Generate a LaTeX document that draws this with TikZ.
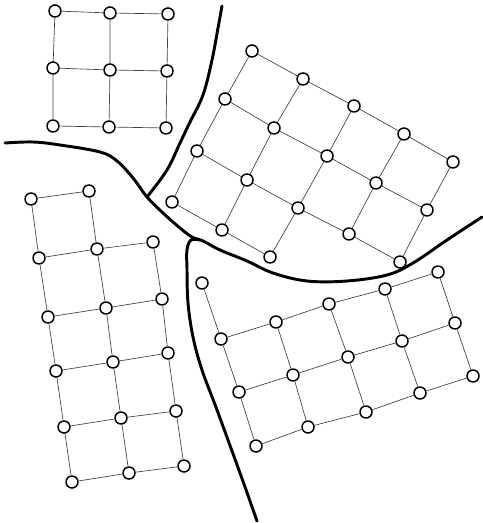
\documentclass[tikz,border=0pt]{standalone}
\usetikzlibrary{shapes.geometric, positioning}
\tikzset{
    site/.style={draw, circle, fill=white, line width=1.1pt, minimum size=9pt, inner sep=0pt},
    link/.style={draw, line width=0.5pt, color=black!75},
    border/.style={draw, line width=2.2pt, line cap=round, line join=round}
}
\begin{document}
\begin{tikzpicture}[x=0.75pt, y=-0.75pt]
    \useasboundingbox (0,0) rectangle (482,523);

    % region borders
    \draw [border] plot[smooth, tension=0.6] coordinates {(5,143) (33,142) (60,145) (100,152) (117,161) (133,178) (147,197) (163,213) (180,228) (192,237) (203,241) (220,250) (247,261) (273,273) (307,281) (347,281) (387,275) (413,263) (447,240) (482,217)};
    \draw [border] plot[smooth, tension=0.6] coordinates {(222,6) (218,28) (212,60) (203,95) (190,122) (180,143) (167,170) (147,197)};
    \draw [border] plot[smooth, tension=0.6] coordinates {(200,240) (191,240) (187,250) (187,270) (188,303) (193,337) (202,370) (217,410) (240,473) (257,521)};

    % north-west grid
    \node [site] (nw11) at (55,11) {};
    \node [site] (nw12) at (110,13) {};
    \node [site] (nw13) at (168,14) {};
    \node [site] (nw21) at (53,68) {};
    \node [site] (nw22) at (110,70) {};
    \node [site] (nw23) at (167,71) {};
    \node [site] (nw31) at (53,126) {};
    \node [site] (nw32) at (109,127) {};
    \node [site] (nw33) at (166,128) {};

    \draw [link] (nw11) -- (nw12) -- (nw13);
    \draw [link] (nw21) -- (nw22) -- (nw23);
    \draw [link] (nw31) -- (nw32) -- (nw33);
    \draw [link] (nw11) -- (nw21) -- (nw31);
    \draw [link] (nw12) -- (nw22) -- (nw32);
    \draw [link] (nw13) -- (nw23) -- (nw33);

    % north-east grid
    \node [site] (ne11) at (252,51) {};
    \node [site] (ne12) at (303,79) {};
    \node [site] (ne13) at (354,106) {};
    \node [site] (ne14) at (404,134) {};
    \node [site] (ne15) at (453,162) {};
    \node [site] (ne21) at (225,99) {};
    \node [site] (ne22) at (274,128) {};
    \node [site] (ne23) at (327,156) {};
    \node [site] (ne24) at (376,183) {};
    \node [site] (ne25) at (427,210) {};
    \node [site] (ne31) at (197,151) {};
    \node [site] (ne32) at (247,180) {};
    \node [site] (ne33) at (298,208) {};
    \node [site] (ne34) at (349,234) {};
    \node [site] (ne35) at (400,262) {};
    \node [site] (ne41) at (172,202) {};
    \node [site] (ne42) at (222,230) {};
    \node [site] (ne43) at (270,257) {};

    \draw [link] (ne11) -- (ne12) -- (ne13) -- (ne14) -- (ne15);
    \draw [link] (ne21) -- (ne22) -- (ne23) -- (ne24) -- (ne25);
    \draw [link] (ne31) -- (ne32) -- (ne33) -- (ne34) -- (ne35);
    \draw [link] (ne41) -- (ne42) -- (ne43);
    \draw [link] (ne11) -- (ne21) -- (ne31) -- (ne41);
    \draw [link] (ne12) -- (ne22) -- (ne32) -- (ne42);
    \draw [link] (ne13) -- (ne23) -- (ne33) -- (ne43);
    \draw [link] (ne14) -- (ne24) -- (ne34);
    \draw [link] (ne15) -- (ne25) -- (ne35);

    % south-west grid
    \node [site] (sw11) at (31,199) {};
    \node [site] (sw12) at (89,191) {};
    \node [site] (sw21) at (39,258) {};
    \node [site] (sw22) at (97,249) {};
    \node [site] (sw23) at (153,242) {};
    \node [site] (sw31) at (48,317) {};
    \node [site] (sw32) at (106,308) {};
    \node [site] (sw33) at (162,299) {};
    \node [site] (sw41) at (56,371) {};
    \node [site] (sw42) at (113,362) {};
    \node [site] (sw43) at (168,353) {};
    \node [site] (sw51) at (64,427) {};
    \node [site] (sw52) at (121,418) {};
    \node [site] (sw53) at (176,411) {};
    \node [site] (sw61) at (72,482) {};
    \node [site] (sw62) at (129,473) {};
    \node [site] (sw63) at (184,466) {};

    \draw [link] (sw11) -- (sw12);
    \draw [link] (sw21) -- (sw22) -- (sw23);
    \draw [link] (sw31) -- (sw32) -- (sw33);
    \draw [link] (sw41) -- (sw42) -- (sw43);
    \draw [link] (sw51) -- (sw52) -- (sw53);
    \draw [link] (sw61) -- (sw62) -- (sw63);
    \draw [link] (sw11) -- (sw21) -- (sw31) -- (sw41) -- (sw51) -- (sw61);
    \draw [link] (sw12) -- (sw22) -- (sw32) -- (sw42) -- (sw52) -- (sw62);
    \draw [link] (sw23) -- (sw33) -- (sw43) -- (sw53) -- (sw63);

    % south-east grid
    \node [site] (se01) at (202,283) {};
    \node [site] (se11) at (221,339) {};
    \node [site] (se12) at (276,322) {};
    \node [site] (se13) at (329,304) {};
    \node [site] (se14) at (385,289) {};
    \node [site] (se15) at (438,272) {};
    \node [site] (se21) at (239,392) {};
    \node [site] (se22) at (293,375) {};
    \node [site] (se23) at (348,357) {};
    \node [site] (se24) at (402,341) {};
    \node [site] (se25) at (455,323) {};
    \node [site] (se31) at (256,446) {};
    \node [site] (se32) at (308,427) {};
    \node [site] (se33) at (366,412) {};
    \node [site] (se34) at (420,393) {};
    \node [site] (se35) at (473,376) {};

    \draw [link] (se11) -- (se12) -- (se13) -- (se14) -- (se15);
    \draw [link] (se21) -- (se22) -- (se23) -- (se24) -- (se25);
    \draw [link] (se31) -- (se32) -- (se33) -- (se34) -- (se35);
    \draw [link] (se01) -- (se11) -- (se21) -- (se31);
    \draw [link] (se12) -- (se22) -- (se32);
    \draw [link] (se13) -- (se23) -- (se33);
    \draw [link] (se14) -- (se24) -- (se34);
    \draw [link] (se15) -- (se25) -- (se35);
\end{tikzpicture}
\end{document}
